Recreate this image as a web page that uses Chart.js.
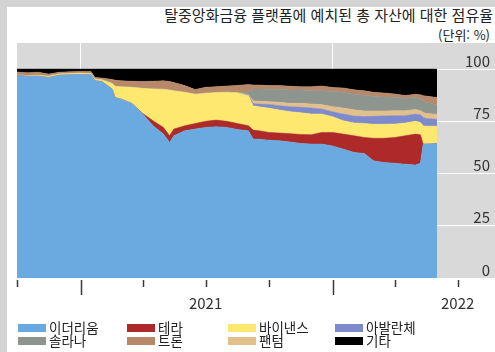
<!DOCTYPE html>
<html lang="ko">
<head>
<meta charset="utf-8">
<script src="https://cdn.jsdelivr.net/npm/chart.js@4.4.1/dist/chart.umd.min.js"></script>
<style>
  html, body { margin: 0; padding: 0; }
  body {
    width: 495px; height: 352px; position: relative; overflow: hidden;
    background: #d3d3d3;
    font-family: "Noto Sans CJK KR", "Noto Sans", sans-serif; color: #222;
  }
  #panel { position: absolute; left: 7px; top: 7px; right: 0; bottom: 0; background: #fff; }
  #title { position: absolute; right: 2px; top: 5px; font-size: 15px; line-height: 20px; white-space: nowrap; }
  #unit { position: absolute; right: 5px; top: 26px; font-size: 13px; line-height: 17px; }
  #chartBox { position: absolute; left: 0; top: 0; width: 495px; height: 352px; }
  .item { position: absolute; font-size: 13.5px; line-height: 15px; white-space: nowrap; }
  .item .box { display: inline-block; width: 28px; height: 8px; margin-right: 3px; vertical-align: 1px; }
</style>
</head>
<body>
<div id="panel"></div>
<div id="title">탈중앙화금융 플랫폼에 예치된 총 자산에 대한 점유율</div>
<div id="unit">(단위: %)</div>
<div id="chartBox"><canvas id="shareChart" width="495" height="352"></canvas></div>
<div id="legend"></div>
<script>
// dates of the readings
const dates = [
    "2020-10-01", "2020-10-16", "2020-11-01", "2020-11-16", "2020-12-01", "2020-12-16",
    "2021-01-01", "2021-01-16", "2021-01-22", "2021-02-01", "2021-02-16", "2021-02-20",
    "2021-03-01", "2021-03-16", "2021-04-01", "2021-04-16", "2021-05-01", "2021-05-10",
    "2021-05-16", "2021-06-01", "2021-06-16", "2021-07-01", "2021-07-16", "2021-08-01",
    "2021-08-16", "2021-09-01", "2021-09-08", "2021-09-16", "2021-10-01", "2021-10-16",
    "2021-11-01", "2021-11-16", "2021-12-01", "2021-12-16", "2022-01-01", "2022-01-16",
    "2022-02-01", "2022-02-16", "2022-03-01", "2022-03-16", "2022-04-01", "2022-04-16",
    "2022-05-01", "2022-05-08", "2022-05-12", "2022-05-16", "2022-06-01"
];

// share of each platform (%), stacked bottom to top
const ethereum = [97.0, 96.6, 96.6, 96.0, 97.1, 97.3, 97.4, 97.3, 94.4, 94.1, 90.4, 86.4,
    85.6, 83.6, 78.5, 72.9, 68.9, 64.9, 68.1, 70.5, 71.3, 72.1, 72.4, 72.1,
    71.1, 70.5, 66.5, 66.4, 66.0, 65.7, 65.1, 64.4, 64.1, 64.1, 63.2, 61.7,
    60.1, 59.6, 56.1, 55.3, 54.9, 54.5, 54.1, 54.9, 64.1, 64.1, 64.4];
const terra = [0, 0, 0, 0, 0, 0, 0, 0, 0, 0, 0, 0,
    0, 0, 0.3, 2.4, 3.2, 3.2, 3.2, 2.4, 2.7, 2.9, 3.2, 2.9,
    2.9, 2.4, 4.3, 4.1, 3.7, 3.7, 4.0, 4.3, 4.5, 5.6, 6.5, 7.2,
    8.0, 7.7, 10.8, 11.6, 12.4, 13.6, 14.8, 13.7, 0, 0, 0];
const binance = [0.2, 0.3, 0.5, 0.6, 0.6, 0.6, 0.6, 0.6, 0.8, 0.8, 2.7, 5.4,
    5.9, 7.7, 12.0, 15.2, 18.2, 21.9, 18.3, 16.0, 14.0, 13.4, 13.2, 13.9,
    14.7, 14.4, 11.6, 11.5, 11.6, 11.0, 10.5, 10.4, 9.9, 8.8, 7.5, 6.4,
    6.1, 6.7, 6.7, 6.7, 6.4, 6.1, 6.1, 5.9, 8.8, 8.6, 8.3];
const avalanche = [0, 0, 0, 0, 0, 0, 0, 0, 0, 0, 0, 0,
    0, 0, 0, 0, 0, 0, 0, 0, 0, 0, 0, 0,
    0, 0.3, 1.1, 1.3, 1.8, 2.1, 2.4, 2.6, 2.9, 2.4, 2.4, 3.2,
    3.3, 3.3, 3.8, 4.0, 4.0, 3.5, 3.5, 3.7, 4.0, 3.7, 3.3];
const fantom = [0, 0, 0, 0, 0, 0, 0, 0, 0, 0, 0, 0,
    0, 0, 0, 0, 0, 0, 0, 0, 0, 0, 0, 0,
    0, 0.2, 1.3, 1.3, 1.3, 1.6, 1.6, 1.9, 1.9, 2.1, 2.4, 2.9,
    3.0, 2.7, 2.6, 2.4, 2.4, 2.4, 2.2, 1.9, 2.4, 2.4, 2.4];
const solana = [0, 0, 0, 0, 0, 0, 0, 0, 0, 0, 0, 0,
    0, 0, 0, 0, 0, 0, 0, 0, 0, 0, 0, 0,
    0, 1.4, 5.7, 5.9, 5.9, 6.2, 6.4, 6.4, 6.4, 6.7, 7.3, 7.5,
    7.5, 7.5, 7.0, 6.7, 6.4, 5.9, 5.7, 5.7, 5.6, 5.3, 4.5];
const tron = [1.4, 1.4, 1.4, 1.0, 0.8, 0.8, 0.8, 1.0, 0.8, 0.8, 1.9, 2.9,
    2.9, 2.9, 3.3, 3.7, 4.1, 4.1, 4.0, 3.2, 2.2, 2.9, 2.7, 3.0,
    3.5, 3.4, 1.9, 1.9, 1.8, 1.8, 1.8, 1.6, 1.9, 2.2, 1.9, 2.1,
    2.1, 2.1, 1.9, 1.9, 1.6, 1.4, 1.6, 1.9, 2.4, 3.0, 3.5];
const others = [1.4, 1.7, 1.5, 2.4, 1.5, 1.3, 1.2, 1.1, 4.0, 4.3, 5.0, 5.3,
    5.6, 5.8, 5.9, 5.8, 5.6, 5.9, 6.4, 7.9, 9.8, 8.7, 8.5, 8.1,
    7.8, 7.4, 7.6, 7.6, 7.9, 7.9, 8.2, 8.4, 8.4, 8.1, 8.8, 9.0,
    9.9, 10.4, 11.1, 11.4, 11.9, 12.6, 12.0, 12.3, 12.7, 12.9, 13.6];

const seriesNames = ["이더리움", "테라", "바이낸스", "아발란체", "팬텀", "솔라나", "트론", "기타"];
const seriesColors = ["#6aaae0", "#ad2a28", "#ffe870", "#7e8acc", "#e2c08c", "#8e948e", "#b8886a", "#000000"];
const legendOrder = ["이더리움", "테라", "바이낸스", "아발란체", "솔라나", "트론", "팬텀", "기타"];

// x axis: days since 2020-10-01, ticks every quarter
const quarterTicks = [0, 92, 182, 273, 365, 457, 547, 638];
const yearStarts = [92, 457];
const yearLabels = { 273: "2021", 638: "2022" };
const yTicks = [0, 25, 50, 75, 100];

const day0 = Date.UTC(2020, 9, 1);
const toDay = s => {
    const [y, m, d] = s.split("-").map(Number);
    return (Date.UTC(y, m - 1, d) - day0) / 86400000;
};
const xs = dates.map(toDay);
const allSeries = [ethereum, terra, binance, avalanche, fantom, solana, tron, others];

Chart.defaults.font.family = "'Noto Sans CJK KR', 'Noto Sans', sans-serif";

// gray plot panel + quarter tick marks (long ones at year starts)
const panelPlugin = {
    id: "panel",
    beforeDraw(chart) {
        const { ctx, chartArea: a } = chart;
        ctx.save();
        ctx.fillStyle = "#d9d9d9";
        ctx.fillRect(a.left, a.top, chart.width - a.left, a.bottom - a.top);
        ctx.restore();
    },
    afterDraw(chart) {
        const { ctx, chartArea: a, scales } = chart;
        ctx.save();
        ctx.strokeStyle = "#3a3a3a";
        ctx.lineWidth = 1.5;
        quarterTicks.forEach(d => {
            const px = Math.round(scales.x.getPixelForValue(d)) + 0.5;
            const len = yearStarts.includes(d) ? 17 : 9;
            ctx.beginPath();
            ctx.moveTo(px, a.bottom + 2);
            ctx.lineTo(px, a.bottom + len);
            ctx.stroke();
        });
        ctx.restore();
    }
};

new Chart(document.getElementById("shareChart"), {
    type: "line",
    data: {
        datasets: allSeries.map((vals, i) => ({
            label: seriesNames[i],
            data: vals.map((v, j) => ({ x: xs[j], y: v })),
            backgroundColor: seriesColors[i],
            borderColor: seriesColors[i],
            borderWidth: 0.5,
            pointRadius: 0,
            tension: 0,
            fill: i === 0 ? "origin" : "-1"
        }))
    },
    options: {
        responsive: false,
        animation: false,
        layout: { padding: { left: 17, top: 43, right: 0, bottom: 24 } },
        plugins: {
            legend: { display: false },
            tooltip: { enabled: false }
        },
        scales: {
            x: {
                type: "linear",
                min: 0,
                max: 692,
                afterBuildTicks: scale => { scale.ticks = quarterTicks.map(v => ({ value: v })); },
                border: { display: false },
                grid: {
                    drawTicks: false,
                    color: c => yearStarts.includes(c.tick.value) ? "#ffffff" : "rgba(0,0,0,0)",
                    lineWidth: 1
                },
                ticks: {
                    autoSkip: false,
                    maxRotation: 0,
                    padding: 16,
                    color: "#333",
                    font: { size: 15 },
                    callback: v => yearLabels[v] || ""
                }
            },
            y: {
                position: "right",
                stacked: true,
                min: 0,
                max: 112.5,
                afterBuildTicks: scale => { scale.ticks = yTicks.map(v => ({ value: v })); },
                afterFit: scale => { scale.width = 0; },
                border: { display: false },
                grid: {
                    drawTicks: false,
                    color: c => c.tick.value === 0 ? "rgba(0,0,0,0)" : "#ffffff",
                    lineWidth: 1
                },
                ticks: {
                    mirror: true,
                    padding: -5,
                    labelOffset: -8,
                    color: "#333",
                    font: { size: 15 }
                }
            }
        }
    },
    plugins: [panelPlugin]
});

// legend, 2 rows x 4 columns
const legendCols = [18, 127, 228, 335];
const legendRows = [320, 333];
const legendEl = document.getElementById("legend");
legendOrder.forEach((name, k) => {
    const i = seriesNames.indexOf(name);
    const div = document.createElement("div");
    div.className = "item";
    div.style.left = legendCols[k % 4] + "px";
    div.style.top = legendRows[Math.floor(k / 4)] + "px";
    div.innerHTML = '<span class="box" style="background:' + seriesColors[i] + '"></span>' + name;
    legendEl.appendChild(div);
});
</script>
</body>
</html>
